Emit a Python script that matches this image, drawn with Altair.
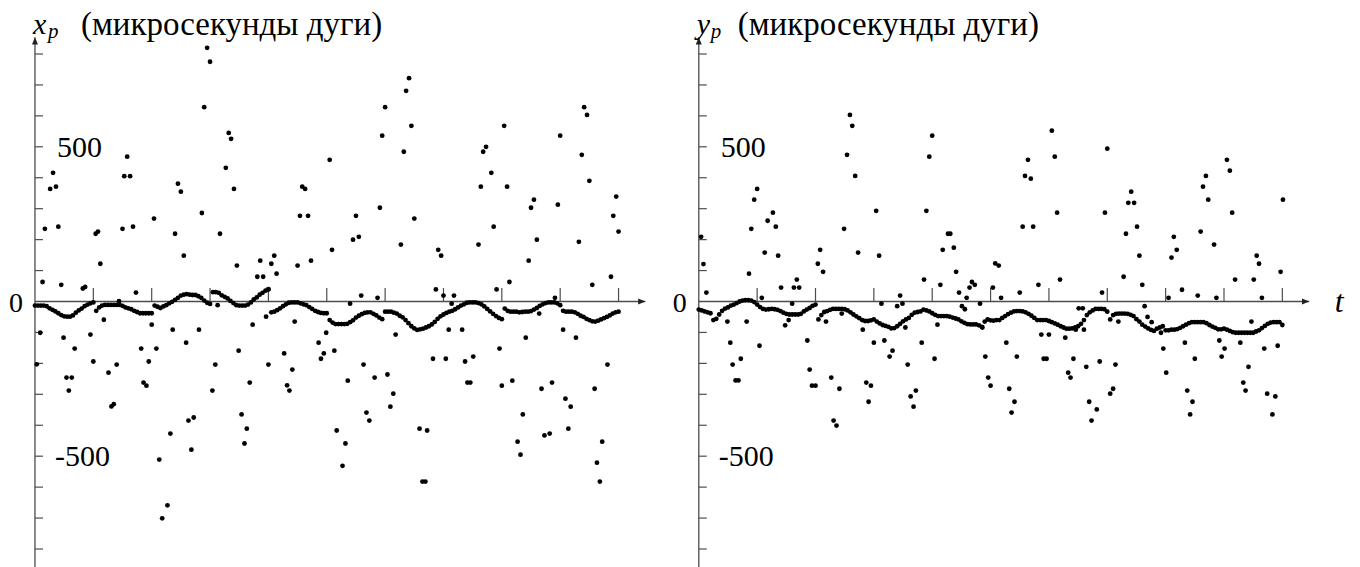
import altair as alt
import pandas as pd

# ---------------- data ----------------
BAND_STEP = 0.05  # time step of the dense (smooth) series, in axis-tick units

LEFT_BAND = [
    -13, -13, -13, -13, -15, -22, -27, -32, -38, -44, -48, -49, -49, -45, -36, -29, -23, -15, -10, -6,
    -3, -30, -19, -13, -11, -11, -11, -11, -11, -11, -14, -19, -22, -25, -30, -34, -38, -38, -38, -38,
    -38, -13, -17, -21, -16, -12, -6, -1, 5, 12, 19, 22, 24, 22, 21, 21, 17, 12, 3, -4,
    -8, 30, 30, 28, 20, 15, 10, 2, -5, -12, -13, -13, -13, -10, -3, 7, 13, 22, 28, 35,
    40, -35, -33, -28, -22, -15, -9, -4, -3, -3, -3, -6, -9, -12, -18, -24, -30, -34, -37, -38,
    -38, -60, -68, -73, -73, -73, -73, -72, -67, -61, -52, -46, -41, -37, -35, -35, -40, -45, -52, -57,
    -33, -33, -33, -36, -39, -46, -51, -60, -70, -80, -87, -92, -90, -88, -84, -80, -74, -66, -56, -48,
    -42, -37, -33, -30, -25, -19, -13, -9, -4, -3, -3, -3, -5, -9, -16, -24, -32, -40, -47, -53,
    -57, -23, -30, -33, -33, -33, -35, -34, -33, -33, -31, -26, -21, -14, -9, -5, -3, -3, -3, -6,
    -12, -30, -33, -33, -33, -35, -40, -46, -50, -56, -60, -64, -65, -62, -58, -54, -50, -45, -39, -35,
    -33,
]

RIGHT_BAND = [
    -26, -29, -32, -35, -38, -60, -56, -42, -30, -23, -19, -13, -10, -5, 0, 3, 4, 4, 3, -2,
    -10, -18, -24, -26, -25, -24, -25, -27, -31, -36, -40, -42, -42, -42, -42, -40, -32, -26, -21, -14,
    -10, -58, -44, -34, -31, -27, -24, -24, -24, -24, -25, -29, -35, -42, -48, -54, -60, -63, -63, -61,
    -58, -65, -71, -76, -79, -82, -87, -86, -80, -72, -64, -58, -53, -43, -36, -34, -32, -26, -29, -32,
    -38, -43, -47, -47, -47, -47, -49, -52, -55, -58, -64, -69, -73, -74, -74, -74, -77, -82, -65, -58,
    -61, -62, -60, -60, -53, -47, -41, -36, -32, -31, -31, -32, -35, -40, -46, -53, -60, -60, -60, -60,
    -63, -67, -71, -75, -80, -84, -88, -88, -87, -84, -80, -72, -60, -44, -35, -29, -24, -24, -24, -25,
    -33, -58, -44, -40, -39, -39, -39, -40, -43, -47, -57, -65, -75, -81, -87, -92, -95, -88, -84, -80,
    -93, -93, -91, -91, -89, -85, -80, -75, -70, -67, -67, -67, -67, -67, -70, -76, -81, -85, -90, -90,
    -88, -91, -95, -99, -101, -101, -101, -101, -101, -101, -101, -97, -93, -86, -79, -72, -68, -67, -67, -67,
    -76,
]

LEFT_SCATTER = [
    (0.03, -203), (0.09, -101), (0.13, 63), (0.17, 235), (0.26, 364), (0.31, 416), (0.36, 371),
    (0.40, 242), (0.45, 54), (0.49, -117), (0.54, -246), (0.58, -288), (0.63, -246), (0.68, -152),
    (0.82, 42), (0.86, 47), (0.95, -107), (1.00, -194), (1.04, 219), (1.08, 226), (1.12, 122),
    (1.18, -59), (1.26, -230), (1.31, -339), (1.35, -332), (1.40, -204), (1.44, 1), (1.50, 235),
    (1.53, 405), (1.58, 468), (1.63, 405), (1.68, 242), (1.73, 29), (1.82, -152), (1.86, -262),
    (1.91, -272), (1.95, -194), (2.00, -75), (2.04, 268), (2.08, -152), (2.13, -511), (2.18, -701),
    (2.27, -659), (2.32, -427), (2.36, -91), (2.40, 219), (2.45, 381), (2.50, 355), (2.55, 148),
    (2.59, -133), (2.63, -385), (2.68, -479), (2.72, -375), (2.81, -91), (2.86, 286), (2.90, 628),
    (2.95, 820), (3.00, 775), (3.04, -288), (3.09, -204), (3.13, -12), (3.17, 219), (3.27, 432),
    (3.32, 545), (3.36, 526), (3.41, 364), (3.46, 116), (3.49, -159), (3.54, -365), (3.59, -459),
    (3.63, -411), (3.68, -262), (3.73, -75), (3.81, 80), (3.86, 132), (3.91, 80), (3.96, -49),
    (4.00, 39), (4.00, -204), (4.05, 122), (4.10, 148), (4.14, 90), (4.27, -168), (4.32, -271),
    (4.36, -288), (4.41, -220), (4.45, -65), (4.50, 116), (4.54, 277), (4.58, 371), (4.63, 364),
    (4.68, 277), (4.73, 132), (4.86, -133), (4.90, -185), (4.95, -168), (4.99, -101), (5.05, 458),
    (5.09, 167), (5.13, -159), (5.17, -417), (5.27, -531), (5.32, -459), (5.36, -256), (5.40, -7),
    (5.45, 200), (5.50, 277), (5.55, 209), (5.59, 19), (5.63, -204), (5.68, -359), (5.73, -385),
    (5.82, -246), (5.87, 12), (5.91, 303), (5.95, 536), (6.00, 628), (6.04, -236), (6.09, -340),
    (6.14, -298), (6.18, -107), (6.27, 184), (6.32, 484), (6.36, 681), (6.41, 722), (6.45, 568),
    (6.50, 268), (6.59, -411), (6.64, -582), (6.69, -582), (6.72, -417), (6.82, -185), (6.87, 39),
    (6.91, 167), (6.96, 148), (7.00, 19), (7.04, -185), (7.09, -91), (7.14, -7), (7.18, 19),
    (7.32, -91), (7.37, -194), (7.41, -262), (7.46, -262), (7.51, -178), (7.60, 184), (7.64, 371),
    (7.68, 484), (7.73, 500), (7.82, 416), (7.86, 242), (7.91, 39), (7.96, -152), (8.00, -272),
    (8.04, 568), (8.09, 371), (8.13, 63), (8.18, -256), (8.27, -453), (8.32, -495), (8.36, -365),
    (8.41, -117), (8.46, 132), (8.50, 303), (8.55, 329), (8.60, 200), (8.64, -39), (8.68, -282),
    (8.73, -433), (8.82, -427), (8.86, -262), (8.91, 12), (8.96, 313), (9.00, 536), (9.05, -91),
    (9.09, -314), (9.14, -411), (9.18, -340), (9.27, -117), (9.32, 193), (9.37, 474), (9.41, 628),
    (9.46, 603), (9.50, 390), (9.55, 54), (9.59, -282), (9.63, -521), (9.68, -582), (9.72, -453),
    (9.81, -204), (9.87, 80), (9.91, 277), (9.96, 339), (10.00, 226),
]

RIGHT_SCATTER = [
    (0.04, 209), (0.08, 121), (0.13, 29), (0.49, -65), (0.54, -133), (0.58, -204), (0.63, -255),
    (0.68, -255), (0.72, -185), (0.82, -65), (0.86, 90), (0.90, 235), (0.95, 329), (1.00, 364),
    (1.04, -143), (1.08, 12), (1.13, 158), (1.18, 261), (1.27, 287), (1.32, 242), (1.36, 148),
    (1.41, 45), (1.48, -77), (1.54, -60), (1.60, -7), (1.63, 45), (1.68, 71), (1.72, 45),
    (1.86, -126), (1.90, -220), (1.94, -272), (2.00, -272), (2.04, 122), (2.08, 167), (2.13, 96),
    (2.18, -65), (2.27, -246), (2.31, -385), (2.36, -401), (2.41, -282), (2.45, -39), (2.49, 235),
    (2.54, 474), (2.59, 603), (2.63, 568), (2.68, 406), (2.73, 158), (2.81, -91), (2.87, -262),
    (2.91, -324), (2.95, -272), (3.00, -133), (3.04, 293), (3.09, 148), (3.13, -7), (3.18, -126),
    (3.27, -178), (3.32, -159), (3.40, -15), (3.45, 19), (3.49, -7), (3.54, -84), (3.58, -204),
    (3.63, -307), (3.68, -340), (3.72, -288), (3.82, -133), (3.86, 71), (3.90, 293), (3.95, 468),
    (4.00, 536), (4.04, -185), (4.09, -75), (4.14, 54), (4.18, 167), (4.27, 219), (4.31, 219),
    (4.37, 174), (4.41, 96), (4.46, 29), (4.51, -15), (4.56, -25), (4.59, 12), (4.64, 45),
    (4.68, 63), (4.73, 54), (4.82, -7), (4.86, -84), (4.91, -178), (4.96, -246), (5.00, -272),
    (5.04, 45), (5.08, 123), (5.14, 116), (5.18, 12), (5.27, -133), (5.32, -282), (5.36, -359),
    (5.41, -324), (5.45, -178), (5.50, 29), (5.55, 242), (5.59, 406), (5.64, 458), (5.69, 397),
    (5.73, 242), (5.82, 54), (5.87, -107), (5.91, -185), (5.96, -185), (6.00, -107), (6.05, 552),
    (6.10, 468), (6.14, 287), (6.19, 71), (6.28, -117), (6.33, -230), (6.37, -246), (6.42, -185),
    (6.46, -91), (6.51, -22), (6.58, -22), (6.60, -91), (6.64, -211), (6.69, -324), (6.73, -385),
    (6.82, -349), (6.87, -194), (6.91, 29), (6.96, 287), (7.00, 494), (7.05, -298), (7.10, -282),
    (7.14, -204), (7.19, -65), (7.28, 80), (7.32, 219), (7.36, 319), (7.41, 355), (7.46, 319),
    (7.51, 242), (7.55, 148), (7.60, 54), (7.64, -15), (7.69, -50), (7.76, -67), (7.92, -101),
    (7.96, -152), (8.01, -230), (8.05, 12), (8.10, 142), (8.14, 209), (8.19, 167), (8.28, 38),
    (8.33, -133), (8.37, -288), (8.42, -365), (8.46, -324), (8.50, -185), (8.55, 19), (8.60, 226),
    (8.64, 371), (8.69, 406), (8.73, 329), (8.83, 184), (8.87, 12), (8.92, -126), (8.96, -178),
    (9.01, -152), (9.05, 458), (9.10, 423), (9.14, 287), (9.19, 71), (9.28, -133), (9.33, -262),
    (9.37, -288), (9.42, -211), (9.47, -65), (9.51, 71), (9.56, 148), (9.60, 122), (9.65, 12),
    (9.69, -152), (9.74, -298), (9.83, -365), (9.88, -307), (9.92, -143), (9.97, 96), (10.01, 329),
]

Y_TICKS = [-800, -700, -600, -500, -400, -300, -200, -100, 100, 200, 300, 400, 500, 600, 700, 800]
X_TICKS = [1, 2, 3, 4, 5, 6, 7, 8, 9, 10]
Y_LABELS = ["500", "0", "-500"]
Y_LABEL_VALUES = [500, 0, -500]
UNITS = "(микросекунды дуги)"

# ---------------- styling ----------------
FONT = "'Liberation Serif', 'DejaVu Serif', serif"
AXIS_COLOR = "#4d4d4d"
PX_PER_T = 58.4        # pixels per x tick unit
PX_PER_V = 0.3096      # pixels per microarcsecond
HEIGHT = 559
V_TOP = 944.8
V_BOTTOM = V_TOP - HEIGHT / PX_PER_V
AXIS_END_V = 854
AXIS_BOTTOM_V = -858
X_AXIS_END = 10.46
DOT = 23


def panel(band, scatter, letter, width, origin_px, paren_dx, sub_dx, show_t):
    t_min = -origin_px / PX_PER_T
    t_max = t_min + width / PX_PER_T
    xs = alt.Scale(domain=[t_min, t_max], nice=False, zero=False)
    ys = alt.Scale(domain=[V_BOTTOM, V_TOP], nice=False, zero=False)

    def X(f):
        return alt.X(f, type="quantitative", scale=xs, axis=None)

    def Y(f):
        return alt.Y(f, type="quantitative", scale=ys, axis=None)

    band_df = pd.DataFrame({"t": [i * BAND_STEP for i in range(len(band))], "v": band})
    sc_df = pd.DataFrame({"t": [p[0] for p in scatter], "v": [p[1] for p in scatter]})

    y_axis = alt.Chart(pd.DataFrame({"t": [0], "v0": [AXIS_BOTTOM_V], "v1": [AXIS_END_V]})).mark_rule(
        color=AXIS_COLOR, strokeWidth=1.3
    ).encode(x=X("t"), y=Y("v0"), y2="v1")
    x_axis = alt.Chart(pd.DataFrame({"t0": [0], "t1": [X_AXIS_END], "v": [0]})).mark_rule(
        color=AXIS_COLOR, strokeWidth=1.3
    ).encode(x=X("t0"), x2="t1", y=Y("v"))
    y_ticks = alt.Chart(pd.DataFrame({"t0": [0] * len(Y_TICKS), "t1": [8 / PX_PER_T] * len(Y_TICKS), "v": Y_TICKS})).mark_rule(
        color=AXIS_COLOR, strokeWidth=1.2
    ).encode(x=X("t0"), x2="t1", y=Y("v"))
    x_ticks = alt.Chart(pd.DataFrame({"t": X_TICKS, "v0": [0] * len(X_TICKS), "v1": [13.5 / PX_PER_V] * len(X_TICKS)})).mark_rule(
        color=AXIS_COLOR, strokeWidth=1.2
    ).encode(x=X("t"), y=Y("v0"), y2="v1")
    arrow_up = alt.Chart(pd.DataFrame({"t": [0], "v": [AXIS_END_V]})).mark_point(
        shape="M0,0L0.75,1.8L-0.75,1.8Z", filled=True, size=64, color="#222", opacity=1, strokeWidth=0
    ).encode(x=X("t"), y=Y("v"))
    arrow_right = alt.Chart(pd.DataFrame({"t": [X_AXIS_END], "v": [0]})).mark_point(
        shape="M0,0L-1.8,-0.75L-1.8,0.75Z", filled=True, size=64, color="#222", opacity=1, strokeWidth=0
    ).encode(x=X("t"), y=Y("v"))

    lab_df = pd.DataFrame({"t": [0, 0, 0], "v": Y_LABEL_VALUES, "s": Y_LABELS})
    lab_pos = alt.Chart(lab_df).transform_filter("datum.v == 500").mark_text(
        font=FONT, fontSize=30, align="left", baseline="middle", dx=22, dy=1, color="black"
    ).encode(x=X("t"), y=Y("v"), text="s:N")
    lab_neg = alt.Chart(lab_df).transform_filter("datum.v == -500").mark_text(
        font=FONT, fontSize=30, align="left", baseline="middle", dx=20, dy=1, color="black"
    ).encode(x=X("t"), y=Y("v"), text="s:N")
    lab_zero = alt.Chart(lab_df).transform_filter("datum.v == 0").mark_text(
        font=FONT, fontSize=28, align="right", baseline="middle", dx=-12, dy=3, color="black"
    ).encode(x=X("t"), y=Y("v"), text="s:N")

    title_df = pd.DataFrame({"t": [0], "v": [862], "a": [letter], "b": ["p"], "c": [UNITS]})
    t_letter = alt.Chart(title_df).mark_text(
        font=FONT, fontSize=30, fontStyle="italic", align="left", baseline="alphabetic", dx=-2, dy=-1, color="black"
    ).encode(x=X("t"), y=Y("v"), text="a:N")
    t_sub = alt.Chart(title_df).mark_text(
        font=FONT, fontSize=21, fontStyle="italic", align="left", baseline="alphabetic", dx=sub_dx, dy=3, color="black"
    ).encode(x=X("t"), y=Y("v"), text="b:N")
    t_units = alt.Chart(title_df).mark_text(
        font=FONT, fontSize=33, align="left", baseline="alphabetic", dx=paren_dx, color="black"
    ).encode(x=X("t"), y=Y("v"), text="c:N")

    pts_band = alt.Chart(band_df).mark_circle(size=DOT, color="black", opacity=1).encode(x=X("t"), y=Y("v"))
    pts_sc = alt.Chart(sc_df).mark_circle(size=DOT, color="black", opacity=1).encode(x=X("t"), y=Y("v"))

    layers = [y_axis, x_axis, y_ticks, x_ticks, arrow_up, arrow_right, lab_pos, lab_neg, lab_zero,
              t_letter, t_sub, t_units, pts_band, pts_sc]
    if show_t:
        t_lab = alt.Chart(pd.DataFrame({"t": [10.9], "v": [0], "s": ["t"]})).mark_text(
            font=FONT, fontSize=32, fontStyle="italic", align="left", baseline="alphabetic", dy=11, color="black"
        ).encode(x=X("t"), y=Y("v"), text="s:N")
        layers.append(t_lab)
    return alt.layer(*layers).properties(width=width, height=HEIGHT)


left = panel(LEFT_BAND, LEFT_SCATTER, "x", 660, 26.0, 46, 13, False)
right = panel(RIGHT_BAND, RIGHT_SCATTER, "y", 684, 30.3, 39, 12, True)

chart = alt.hconcat(left, right, spacing=0, bounds="flush", padding=0).configure_view(strokeWidth=0)

chart.save("out.html", embed_options={"renderer": "svg", "actions": False})
